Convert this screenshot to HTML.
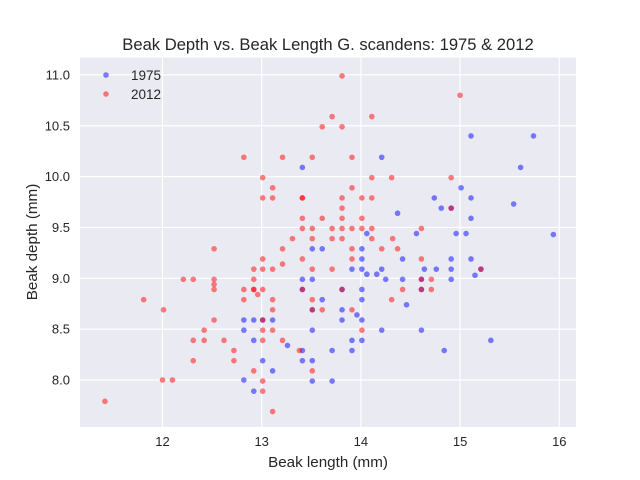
<!DOCTYPE html>
<html><head><meta charset="utf-8"><style>
body{margin:0;background:#fff;}
svg{display:block;font-family:"Liberation Sans","DejaVu Sans",sans-serif;}
</style></head><body>
<svg id="chart" width="640" height="480" viewBox="0 0 640 480" xmlns="http://www.w3.org/2000/svg">
<rect x="0" y="0" width="640" height="480" fill="#ffffff"/>
<rect x="80" y="57.6" width="496" height="369.4" fill="#EAEAF2"/>
<g id="grid"></g>
<g id="xticks"></g>
<g id="yticks"></g>
<g id="pts1975"></g>
<g id="pts2012"></g>
<text x="328" y="50" text-anchor="middle" font-size="16.6" fill="#262626">Beak Depth vs. Beak Length G. scandens: 1975 &amp; 2012</text>
<text x="328" y="467" text-anchor="middle" font-size="15.2" fill="#262626">Beak length (mm)</text>
<text transform="translate(37,242) rotate(-90)" text-anchor="middle" font-size="15.2" fill="#262626">Beak depth (mm)</text>
<g>
<circle cx="106" cy="75" r="2.8" fill="#0000ff" fill-opacity="0.5"/>
<text x="161" y="80" text-anchor="end" font-size="13.5" fill="#262626">1975</text>
<circle cx="106" cy="94" r="2.8" fill="#ff0000" fill-opacity="0.5"/>
<text x="161" y="99" text-anchor="end" font-size="13.5" fill="#262626">2012</text>
</g>
</svg>
<script>
const xTicks = [12, 13, 14, 15, 16];
const yTicks = [8.0, 8.5, 9.0, 9.5, 10.0, 10.5, 11.0];
const len1975 = [12.82,12.92,12.82,12.92,12.82,12.92,13.01,13.01,13.11,13.11,13.26,13.41,13.41,13.41,13.41,13.41,13.51,13.51,13.51,13.51,13.51,13.51,13.61,13.61,13.71,13.71,13.81,13.81,13.81,13.91,13.91,13.91,13.96,14.01,14.01,14.01,14.01,14.01,14.01,14.01,14.06,14.06,14.16,14.21,14.21,14.21,14.25,14.37,14.42,14.42,14.46,14.56,14.61,14.61,14.61,14.64,14.74,14.76,14.81,14.84,14.91,14.91,14.91,14.91,14.96,15.01,15.06,15.11,15.11,15.11,15.11,15.15,15.21,15.31,15.54,15.61,15.74,15.94];
const dep1975 = [8.59,8.59,8.49,8.39,8.0,7.89,8.59,8.19,8.59,8.09,8.34,10.09,8.99,8.89,8.29,8.19,9.29,8.99,8.69,8.49,8.19,7.99,9.29,8.79,8.29,7.99,8.89,8.69,8.59,9.09,8.39,8.29,8.64,9.29,9.19,9.09,8.89,8.79,8.59,8.39,9.44,9.04,9.04,10.19,9.09,8.49,8.99,9.64,9.19,8.99,8.74,9.44,8.99,8.89,8.49,9.09,9.79,9.09,9.69,8.29,9.69,9.19,9.09,8.99,9.44,9.89,9.44,10.40,9.79,9.59,9.19,9.03,9.09,8.39,9.73,10.09,10.40,9.43];
const len2012 = [11.42,11.81,12.01,12.0,12.1,12.21,12.31,12.31,12.31,12.42,12.42,12.52,12.52,12.52,12.52,12.52,12.62,12.72,12.72,12.82,12.82,12.82,12.92,12.92,12.92,12.96,12.92,13.01,13.01,13.01,13.01,13.01,13.01,13.01,13.01,13.01,13.01,13.11,13.11,13.11,13.11,13.11,13.11,13.11,13.21,13.21,13.21,13.21,13.31,13.38,13.41,13.41,13.41,13.41,13.41,13.51,13.51,13.51,13.51,13.51,13.51,13.51,13.61,13.61,13.61,13.71,13.71,13.71,13.71,13.81,13.81,13.81,13.81,13.81,13.81,13.81,13.81,13.91,13.91,13.91,13.91,13.91,13.91,14.01,14.01,14.01,14.01,14.11,14.11,14.11,14.11,14.11,14.21,14.31,14.31,14.32,14.37,14.42,14.61,14.61,14.61,14.61,14.71,14.71,14.91,14.91,15.0,15.21,13.41,12.92];
const dep2012 = [7.79,8.79,8.69,8.0,8.0,8.99,8.99,8.39,8.19,8.49,8.39,9.29,8.99,8.94,8.89,8.59,8.39,8.29,8.19,10.19,8.89,8.79,9.09,8.99,8.89,8.84,8.09,9.99,9.79,9.19,9.09,8.89,8.49,8.39,7.99,7.89,8.59,9.89,9.79,9.09,8.79,8.69,8.49,7.69,10.19,9.29,9.14,8.39,9.39,8.29,9.79,9.59,9.49,9.19,8.89,10.19,9.49,9.39,9.09,8.79,8.69,8.09,10.49,9.59,8.69,10.59,9.49,9.39,9.09,10.99,10.49,9.79,9.69,9.59,9.49,9.39,8.89,10.19,9.89,9.49,9.29,9.19,8.69,9.79,9.59,9.49,8.49,10.59,9.99,9.79,9.49,9.39,9.29,9.99,8.79,9.39,9.29,8.89,9.49,9.19,8.99,8.89,8.99,8.89,9.99,9.69,10.8,9.09,9.79,8.89];

const X0 = 80, X1 = 576, Y0 = 57.6, Y1 = 427;
function xs(v){ return 162.5 + (v - 12) * 99.2; }
function ys(v){ return 380 - (v - 8) * 101.7; }
const NS = "http://www.w3.org/2000/svg";
const grid = document.getElementById("grid");
const xt = document.getElementById("xticks");
const yt = document.getElementById("yticks");
xTicks.forEach(t => {
  const l = document.createElementNS(NS, "line");
  
  
  l.setAttribute("x1", xs(t)); l.setAttribute("x2", xs(t));
  l.setAttribute("y1", Y0); l.setAttribute("y2", Y1);
  l.setAttribute("stroke", "#fff"); l.setAttribute("stroke-width", "1.2");
  grid.appendChild(l);
  const tx = document.createElementNS(NS, "text");
  
  
  tx.setAttribute("x", xs(t)); tx.setAttribute("y", 446);
  tx.setAttribute("text-anchor", "middle"); tx.setAttribute("font-size", "13"); tx.setAttribute("fill", "#262626");
  tx.textContent = String(t);
  xt.appendChild(tx);
});
yTicks.forEach(t => {
  const l = document.createElementNS(NS, "line");
  
  
  l.setAttribute("x1", X0); l.setAttribute("x2", X1);
  l.setAttribute("y1", ys(t)); l.setAttribute("y2", ys(t));
  l.setAttribute("stroke", "#fff"); l.setAttribute("stroke-width", "1.2");
  grid.appendChild(l);
  const tx = document.createElementNS(NS, "text");
  
  
  tx.setAttribute("x", 70); tx.setAttribute("y", ys(t) + 4.5);
  tx.setAttribute("text-anchor", "end"); tx.setAttribute("font-size", "13"); tx.setAttribute("fill", "#262626");
  tx.textContent = t.toFixed(1);
  yt.appendChild(tx);
});
function drawPts(gid, xsArr, ysArr, color, name){
  const g = document.getElementById(gid);
  for (let i = 0; i < xsArr.length; i++){
    const c = document.createElementNS(NS, "circle");
    
    
    c.setAttribute("cx", xs(xsArr[i]));
    c.setAttribute("cy", ys(ysArr[i]));
    c.setAttribute("r", "2.8");
    c.setAttribute("fill", color);
    c.setAttribute("fill-opacity", "0.5");
    g.appendChild(c);
  }
}
drawPts("pts1975", len1975, dep1975, "#0000ff", "point-1975");
drawPts("pts2012", len2012, dep2012, "#ff0000", "point-2012");
</script>
</body></html>
